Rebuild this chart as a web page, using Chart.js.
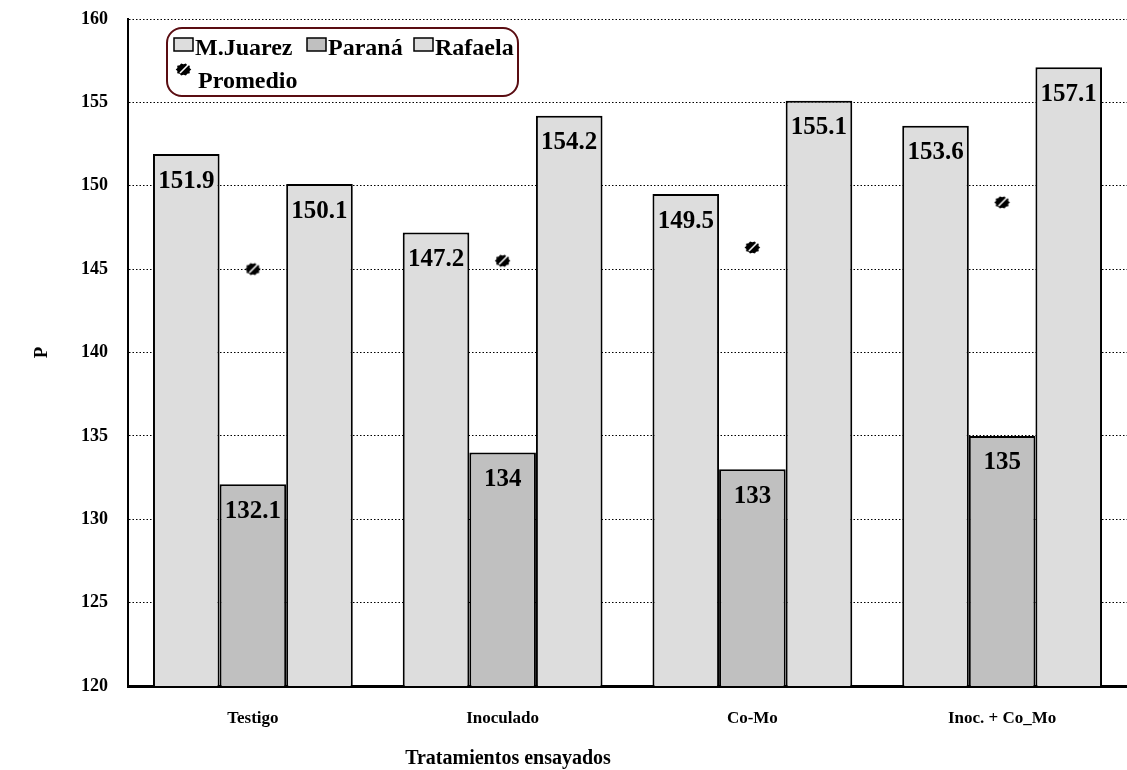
<!DOCTYPE html>
<html>
<head>
<meta charset="utf-8">
<title>Tratamientos ensayados</title>
<script src="https://cdn.jsdelivr.net/npm/chart.js@4.4.1/dist/chart.umd.min.js"></script>
<style>
  html, body { margin: 0; padding: 0; background: #fff; overflow: hidden; }
  #wrap { width: 1136px; height: 770px; }
</style>
</head>
<body>
<div id="wrap"><canvas id="chart-bar" width="1136" height="770"></canvas></div>
<script>
// ---- datos ----
const TRATAMIENTOS = ['Testigo', 'Inoculado', 'Co-Mo', 'Inoc. + Co_Mo'];
const M_JUAREZ = [151.9, 147.2, 149.5, 153.6];
const PARANA   = [132.1, 134, 133, 135];
const RAFAELA  = [150.1, 154.2, 155.1, 157.1];
const PROMEDIO = [145.0, 145.5, 146.3, 149.0];
const Y_MIN = 120;
const Y_MAX = 160;
const Y_STEP = 5;
const X_TITLE = 'Tratamientos ensayados';
const Y_TITLE = 'P';

const SERIF = "'Liberation Serif', 'Times New Roman', serif";
const LIGHT = '#dddddd';
const MID = '#c0c0c0';

// marcador del promedio: mancha negra con una raya blanca
function makeBlob() {
  const c = document.createElement('canvas');
  c.width = 17; c.height = 15;
  const g = c.getContext('2d');
  g.fillStyle = '#000';
  g.beginPath();
  const n = 20;
  for (let i = 0; i < n; i++) {
    const a = (i / n) * Math.PI * 2;
    const r = (i % 2 === 0) ? 1 : 0.82;
    const x = 8.5 + Math.cos(a) * 7.8 * r;
    const y = 7.5 + Math.sin(a) * 6.4 * r;
    if (i === 0) g.moveTo(x, y); else g.lineTo(x, y);
  }
  g.closePath();
  g.fill();
  g.strokeStyle = '#fff';
  g.lineWidth = 1.6;
  g.beginPath();
  g.moveTo(5, 11);
  g.lineTo(13, 3);
  g.stroke();
  return c;
}
const blob = makeBlob();

// etiquetas con el valor dentro de cada barra
const barLabels = {
  id: 'barLabels',
  afterDatasetsDraw(chart) {
    const ctx = chart.ctx;
    ctx.save();
    ctx.font = 'bold 25px ' + SERIF;
    ctx.fillStyle = '#000';
    ctx.textAlign = 'center';
    ctx.textBaseline = 'middle';
    chart.data.datasets.forEach((ds, i) => {
      if (ds.type === 'line') return;
      chart.getDatasetMeta(i).data.forEach((bar, j) => {
        ctx.fillText(String(ds.data[j]), bar.x, bar.y + 27);
      });
    });
    ctx.restore();
  }
};

// leyenda en recuadro redondeado + título del eje X
const boxLegend = {
  id: 'boxLegend',
  afterDraw(chart) {
    const ctx = chart.ctx;
    ctx.save();
    ctx.fillStyle = '#fff';
    ctx.strokeStyle = '#5a0d12';
    ctx.lineWidth = 2;
    ctx.beginPath();
    ctx.roundRect(167, 28, 351, 68, 15);
    ctx.fill();
    ctx.stroke();

    ctx.font = 'bold 24px ' + SERIF;
    ctx.textBaseline = 'alphabetic';
    ctx.textAlign = 'left';
    const items = [
      { x: 174, ds: chart.data.datasets[0] },
      { x: 307, ds: chart.data.datasets[1] },
      { x: 414, ds: chart.data.datasets[2] },
    ];
    items.forEach(it => {
      ctx.fillStyle = it.ds.backgroundColor;
      ctx.fillRect(it.x, 38, 19, 13);
      ctx.strokeStyle = '#000';
      ctx.lineWidth = 1.5;
      ctx.strokeRect(it.x, 38, 19, 13);
      ctx.fillStyle = '#000';
      ctx.fillText(it.ds.label, it.x + 21, 55);
    });
    ctx.drawImage(blob, 175, 62);
    ctx.fillText(chart.data.datasets[3].label, 198, 88);

    ctx.font = 'bold 20px ' + SERIF;
    ctx.textAlign = 'center';
    ctx.textBaseline = 'middle';
    ctx.fillText(X_TITLE, 508, 759);
    ctx.restore();
  }
};

const barOpts = { borderColor: '#000', borderWidth: 2, borderSkipped: false, order: 1 };

new Chart(document.getElementById('chart-bar'), {
  type: 'bar',
  data: {
    labels: TRATAMIENTOS,
    datasets: [
      { label: 'M.Juarez', data: M_JUAREZ, backgroundColor: LIGHT, ...barOpts },
      { label: 'Paraná', data: PARANA, backgroundColor: MID, ...barOpts },
      { label: 'Rafaela', data: RAFAELA, backgroundColor: LIGHT, ...barOpts },
      {
        type: 'line',
        label: 'Promedio',
        data: PROMEDIO,
        showLine: false,
        pointStyle: blob,
        pointRadius: 8,
        order: 0,
      },
    ]
  },
  options: {
    responsive: false,
    animation: false,
    categoryPercentage: 0.8,
    barPercentage: 1.0,
    layout: { padding: { top: 19, left: 0, right: 0, bottom: 0 } },
    plugins: {
      legend: { display: false },
      tooltip: { enabled: false },
    },
    scales: {
      x: {
        grid: { display: false },
        border: { display: true, color: '#000', width: 3 },
        ticks: {
          color: '#000',
          padding: 14,
          font: { family: SERIF, size: 17, weight: 'bold' },
        },
        afterFit(scale) {
          scale.height = 84;
          scale.paddingLeft = 0;
          scale.paddingRight = 0;
        },
      },
      y: {
        min: Y_MIN,
        max: Y_MAX,
        grid: { color: '#000', lineWidth: 1, drawTicks: false },
        border: { display: true, color: '#000', width: 2, dash: [1.5, 2] },
        ticks: {
          stepSize: Y_STEP,
          color: '#000',
          padding: 20,
          font: { family: SERIF, size: 18, weight: 'bold' },
        },
        title: {
          display: true,
          text: Y_TITLE,
          color: '#000',
          padding: { top: 31, bottom: 0 },
          font: { family: SERIF, size: 19, weight: 'bold' },
        },
        afterFit(scale) {
          scale.width = 128;
          scale.paddingTop = 0;
          scale.paddingBottom = 0;
        },
      },
    }
  },
  plugins: [barLabels, boxLegend]
});
</script>
</body>
</html>
